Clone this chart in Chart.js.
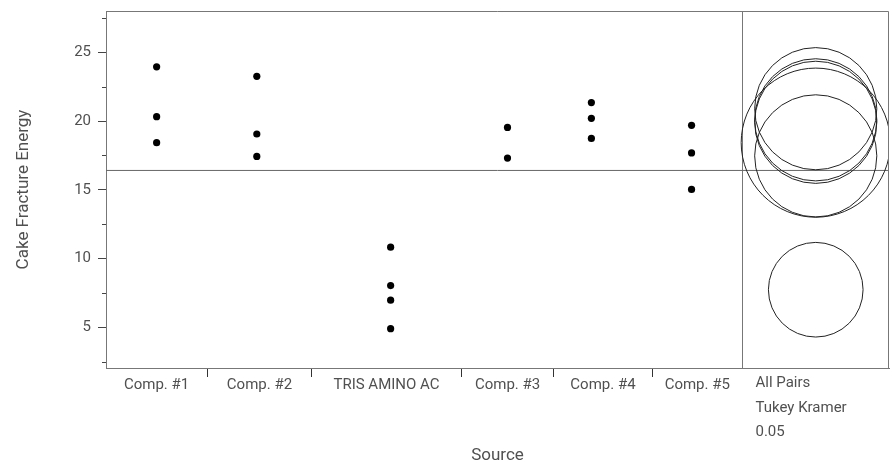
<!DOCTYPE html>
<html>
<head>
<meta charset="utf-8">
<script src="https://cdn.jsdelivr.net/npm/chart.js@4"></script>
<style>
  html, body { margin: 0; padding: 0; background: #fff; }
  #wrap { width: 893px; height: 463px; }
</style>
</head>
<body>
<div id="wrap"><canvas id="oneway"></canvas></div>
<script>
// groups along the x axis
const groups = ["Comp. #1", "Comp. #2", "TRIS AMINO AC", "Comp. #3", "Comp. #4", "Comp. #5"];

const comp1 = [23.94, 20.32, 18.43];
const comp2 = [23.25, 19.06, 17.43];
const tris = [10.83, 8.04, 6.98, 4.91];
const comp3 = [19.54, 17.31];
const comp4 = [21.34, 20.20, 18.74];
const comp5 = [19.69, 17.68, 15.03];
const groupValues = [comp1, comp2, tris, comp3, comp4, comp5];

const grandMean = 16.41;

// comparison circles: centre (group mean) and radius, both in y units
const circleMeans = [20.90, 19.91, 7.74, 18.43, 20.09, 17.47];
const circleRadii = [4.44, 4.44, 3.44, 5.42, 4.44, 4.44];

const yTicks = [5, 10, 15, 20, 25];
const yMinorTicks = [2.5, 7.5, 12.5, 17.5, 22.5, 27.5];
const panelLabel = ["All Pairs", "Tukey Kramer", "0.05"];

// x axis layout (JMP gives each group its own width)
const groupEdges = [0, 101.3, 206, 355.7, 448.5, 546.7, 637.3];
const panelEnd = 784;
const pointX = [50.7, 151, 285, 402, 486, 586.3];

// x ticks: group centres carry the labels, edges carry the tick marks
const xTicks = [];
groups.forEach((g, i) => {
  xTicks.push({ value: (groupEdges[i] + groupEdges[i + 1]) / 2, kind: "label", text: g });
  xTicks.push({ value: groupEdges[i + 1], kind: i === groups.length - 1 ? "panel" : "mark", text: "" });
});

const points = groupValues.flatMap((vals, i) => vals.map(v => ({ x: pointX[i], y: v })));

const FRAME = "#777";
const TEXT = "#505050";
const FONT = "Roboto, 'Liberation Sans', sans-serif";

const extras = {
  id: "extras",
  afterDatasetsDraw(chart) {
    const { ctx, chartArea: a, scales: { x, y } } = chart;
    ctx.save();

    // comparison circles
    ctx.beginPath();
    ctx.rect(a.left, a.top, a.right - a.left, a.bottom - a.top);
    ctx.clip();
    const cx = x.getPixelForValue((groupEdges[groupEdges.length - 1] + panelEnd) / 2);
    ctx.strokeStyle = "#222";
    ctx.lineWidth = 1;
    circleMeans.forEach((m, i) => {
      const cy = y.getPixelForValue(m);
      const r = Math.abs(y.getPixelForValue(m + circleRadii[i]) - cy);
      ctx.beginPath();
      ctx.arc(cx, cy, r, 0, Math.PI * 2);
      ctx.stroke();
    });
    ctx.restore();

    ctx.save();
    // top and right side of the frame
    ctx.strokeStyle = FRAME;
    ctx.lineWidth = 1;
    ctx.beginPath();
    ctx.moveTo(a.left, a.top + 0.5);
    ctx.lineTo(a.right - 0.5, a.top + 0.5);
    ctx.lineTo(a.right - 0.5, a.bottom);
    ctx.stroke();

    // minor y ticks
    ctx.strokeStyle = "#444";
    yMinorTicks.forEach(v => {
      const py = Math.round(y.getPixelForValue(v)) + 0.5;
      ctx.beginPath();
      ctx.moveTo(a.left - 4, py);
      ctx.lineTo(a.left, py);
      ctx.stroke();
    });

    // panel caption under the circles
    ctx.fillStyle = TEXT;
    ctx.font = "15px " + FONT;
    ctx.textAlign = "left";
    ctx.textBaseline = "middle";
    const lx = x.getPixelForValue(groupEdges[groupEdges.length - 1]) + 13;
    panelLabel.forEach((t, i) => ctx.fillText(t, lx, a.bottom + 15 + i * 24.8));
    ctx.restore();
  }
};

new Chart(document.getElementById("oneway"), {
  type: "scatter",
  data: {
    datasets: [
      {
        data: points,
        backgroundColor: "#000",
        borderWidth: 0,
        pointRadius: 3.6
      },
      {
        type: "line",
        data: [{ x: 0, y: grandMean }, { x: panelEnd, y: grandMean }],
        borderColor: "#666",
        borderWidth: 1,
        pointRadius: 0
      }
    ]
  },
  options: {
    responsive: true,
    maintainAspectRatio: false,
    animation: false,
    events: [],
    layout: { padding: { left: 0, top: 11, right: 3, bottom: 0 } },
    plugins: { legend: { display: false }, tooltip: { enabled: false } },
    scales: {
      x: {
        type: "linear",
        min: 0,
        max: panelEnd,
        afterBuildTicks: s => { s.ticks = xTicks.map(t => ({ value: t.value })); },
        afterFit: s => { s.height = 95; s.paddingLeft = 0; s.paddingRight = 0; },
        ticks: {
          autoSkip: false,
          maxRotation: 0,
          padding: 1,
          color: TEXT,
          font: { family: FONT, size: 15, lineHeight: 1 },
          callback: (v, i) => xTicks[i] ? xTicks[i].text : ""
        },
        grid: {
          drawOnChartArea: true,
          tickLength: 9,
          color: c => (xTicks[c.index] && xTicks[c.index].kind === "panel") ? FRAME : "rgba(0,0,0,0)",
          tickColor: c => (xTicks[c.index] && xTicks[c.index].kind === "mark") ? "#333" : "rgba(0,0,0,0)"
        },
        border: { display: true, color: FRAME, width: 1 },
        title: {
          display: true,
          text: "Source",
          color: TEXT,
          font: { family: FONT, size: 17, lineHeight: 1 },
          padding: { top: 0, bottom: -1.5 }
        }
      },
      y: {
        min: 2.05,
        max: 28.0,
        afterBuildTicks: s => { s.ticks = yTicks.map(v => ({ value: v })); },
        afterFit: s => { s.width = 106; s.paddingTop = 0; s.paddingBottom = 0; },
        ticks: {
          padding: 7,
          color: TEXT,
          font: { family: FONT, size: 15 }
        },
        grid: { drawOnChartArea: false, tickLength: 8, tickColor: "#444" },
        border: { display: true, color: FRAME, width: 1 },
        title: {
          display: true,
          text: "Cake Fracture Energy",
          color: TEXT,
          font: { family: FONT, size: 17, lineHeight: 1 },
          padding: { top: 15, bottom: 0 }
        }
      }
    }
  },
  plugins: [extras]
});
</script>
</body>
</html>
